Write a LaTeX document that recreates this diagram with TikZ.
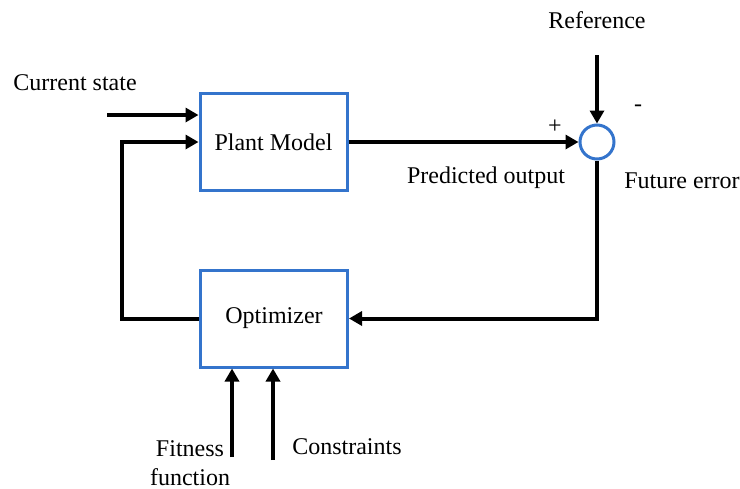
\documentclass[tikz,border=0pt]{standalone}
\usepackage{fontspec}
\setmainfont{Liberation Serif}
\definecolor{boxblue}{RGB}{52, 116, 204}
\usetikzlibrary{arrows.meta, positioning}

\begin{document}
\begin{tikzpicture}[x=0.5pt, y=-0.5pt,
  block/.style={draw=boxblue, line width=1.5pt, minimum width=73.5pt, minimum height=48.5pt, font=\fontsize{12}{14}\selectfont},
  sumnode/.style={circle, draw=boxblue, line width=1.5pt, minimum size=17pt, inner sep=0pt},
  sig/.style={line width=2pt, -{Triangle[length=6.5pt, width=7pt]}},
  lbl/.style={font=\fontsize{12}{14.5}\selectfont, inner sep=0pt}]
  \useasboundingbox (0,0) rectangle (740,488);

  % blocks
  \node[block] (plant) at (273.5,142) {Plant Model};
  \node[block] (opt) at (274,318.5) {Optimizer};
  \node[sumnode] (sum) at (597,142) {};

  % free ends
  \coordinate (cs) at (107,115);
  \coordinate (ref) at (597,55);
  \coordinate (fit) at (232,457);
  \coordinate (con) at (273,460);

  % signals
  \draw[sig] (cs) -- (cs -| plant.west);
  \draw[sig] (opt.west) -- ++(-77,0) |- (plant.west);
  \draw[sig] (plant.east) -- (sum.west);
  \draw[sig] (ref) -- (sum.north);
  \draw[sig] (sum.south) |- (opt.east);
  \draw[sig] (fit) -- (fit |- opt.south);
  \draw[sig] (con) -- (con |- opt.south);

  % labels
  \node[lbl] (lcs) at (75,83) {Current state};
  \node[lbl] (lref) at (597,20) {Reference};
  \node[lbl] (lplus) at (555,127) {+};
  \node[lbl] (lminus) at (638,108) {-};
  \node[lbl] (lpred) at (486,178) {Predicted output};
  \node[lbl] (lerr) at (682,181) {Future error};
  \node[lbl, align=center] (lfit) at (190,463) {Fitness\\function};
  \node[lbl] (lcon) at (347,447) {Constraints};
\end{tikzpicture}
\end{document}
